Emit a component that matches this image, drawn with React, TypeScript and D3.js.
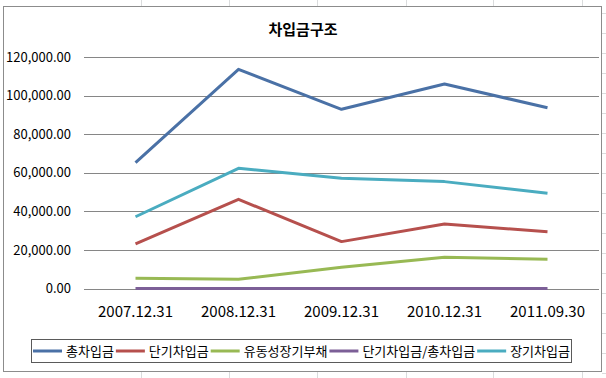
import React, { useEffect, useRef } from "react";
import * as d3 from "d3";

const categories = ["2007.12.31", "2008.12.31", "2009.12.31", "2010.12.31", "2011.09.30"];
const seriesNames = ["총차입금", "단기차입금", "유동성장기부채", "단기차입금/총차입금", "장기차입금"];
const totalBorrowings = [65200, 113600, 92900, 106000, 93700];
const shortTermBorrowings = [23100, 46200, 24300, 33400, 29400];
const currentLongTermDebt = [5300, 4800, 11000, 16200, 15100];
const shortToTotalRatio = [0.35, 0.41, 0.26, 0.32, 0.31];
const longTermBorrowings = [37200, 62300, 57100, 55400, 49400];
const yTicks = [0, 20000, 40000, 60000, 80000, 100000, 120000];
const colors = ["#4A71A6", "#B6504D", "#98B954", "#7C5F97", "#4AACC0"];

const W = 606;
const H = 378;
const FONT = "'Noto Sans CJK KR', 'Noto Sans', sans-serif";

export default function App() {
  const ref = useRef<SVGSVGElement | null>(null);

  useEffect(() => {
    const svg = d3.select(ref.current);
    svg.selectAll("*").remove();

    // spreadsheet cell gridlines outside the chart
    const bg = svg.append("g").attr("stroke", "#dadcdd").attr("stroke-width", 1);
    [141.5, 229.5, 317.5, 406.5, 493.5, 582.5].forEach((x) => {
      bg.append("line").attr("x1", x).attr("x2", x).attr("y1", 0).attr("y2", 6);
      bg.append("line").attr("x1", x).attr("x2", x).attr("y1", 372).attr("y2", H);
    });
    d3.range(13.5, H, 20).forEach((y) => {
      bg.append("line").attr("x1", 602).attr("x2", W).attr("y1", y).attr("y2", y);
    });

    // chart area
    svg.append("rect").attr("x", 3.5).attr("y", 6.5).attr("width", 598).attr("height", 365)
      .attr("fill", "#ffffff").attr("stroke", "#8c8c8c").attr("stroke-width", 1);

    const left = 84, right = 599, top = 57, bottom = 288.5;
    const x = d3.scaleBand<string>().domain(categories).range([left, right]);
    const y = d3.scaleLinear().domain([0, 120000]).range([bottom, top]);

    // title
    svg.append("text").attr("x", 303).attr("y", 35).attr("text-anchor", "middle")
      .attr("font-family", FONT).attr("font-weight", "bold").attr("font-size", 15)
      .attr("fill", "#000").text("차입금구조");

    // gridlines
    const grid = svg.append("g");
    yTicks.forEach((t) => {
      grid.append("line").attr("x1", left).attr("x2", right)
        .attr("y1", Math.round(y(t)) + 0.5).attr("y2", Math.round(y(t)) + 0.5)
        .attr("stroke", "#868686").attr("stroke-width", 1);
    });

    // y tick labels
    const fmt = d3.format(",.2f");
    yTicks.forEach((t) => {
      svg.append("text").attr("x", 71).attr("y", y(t)).attr("dy", "0.36em")
        .attr("text-anchor", "end").attr("font-family", FONT).attr("font-size", 13)
        .attr("fill", "#000").text(fmt(t));
    });

    // x labels
    categories.forEach((c) => {
      svg.append("text").attr("x", (x(c) as number) + x.bandwidth() / 2).attr("y", 312)
        .attr("dy", "0.36em").attr("text-anchor", "middle").attr("font-family", FONT)
        .attr("font-size", 15).attr("fill", "#000").text(c);
    });

    const allSeries = [totalBorrowings, shortTermBorrowings, currentLongTermDebt, shortToTotalRatio, longTermBorrowings];
    const line = d3.line<number>()
      .x((_, i) => (x(categories[i]) as number) + x.bandwidth() / 2)
      .y((v) => y(v));
    allSeries.forEach((s, i) => {
      svg.append("path").attr("d", line(s) as string).attr("fill", "none")
        .attr("stroke", colors[i]).attr("stroke-width", 3).attr("stroke-linejoin", "round");
    });

    // legend
    const lg = svg.append("g");
    lg.append("rect").attr("x", 31.5).attr("y", 339.5).attr("width", 540).attr("height", 23)
      .attr("fill", "#fff").attr("stroke", "#5a5a5a").attr("stroke-width", 1);
    const texts = seriesNames.map((n) =>
      lg.append("text").attr("font-family", FONT).attr("font-size", 13).attr("fill", "#000")
        .attr("y", 351).attr("dy", "0.36em").text(n)
    );
    const widths = texts.map((t) => (t.node() as SVGTextElement).getComputedTextLength());
    const sample = 29, gapA = 4, gapB = 2;
    const total = widths.reduce((a, b) => a + b, 0) + seriesNames.length * (sample + gapA) + (seriesNames.length - 1) * gapB;
    let cx = 31.5 + (540 - total) / 2;
    seriesNames.forEach((_, i) => {
      lg.append("line").attr("x1", cx).attr("x2", cx + sample).attr("y1", 351).attr("y2", 351)
        .attr("stroke", colors[i]).attr("stroke-width", 3);
      texts[i].attr("x", cx + sample + gapA);
      cx += sample + gapA + widths[i] + gapB;
    });
  }, []);

  return (
    <svg ref={ref} width={W} height={H} style={{ position: "absolute", left: 0, top: 0, background: "#fff" }} />
  );
}
